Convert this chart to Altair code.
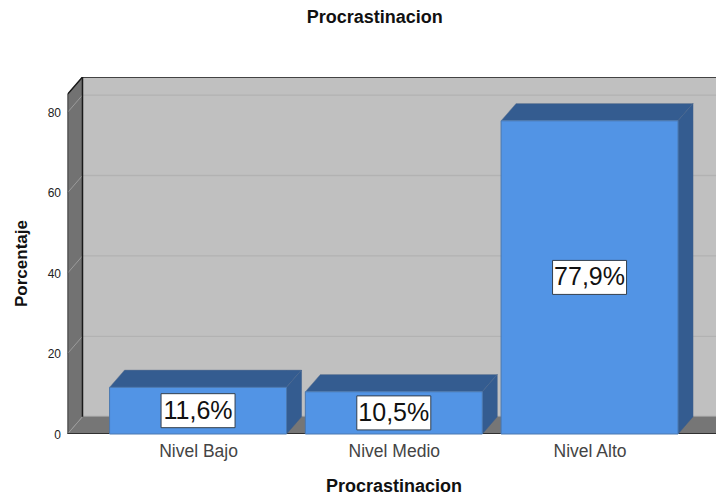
import altair as alt
import pandas as pd

categories = ["Nivel Bajo", "Nivel Medio", "Nivel Alto"]
values = [11.6, 10.5, 77.9]
labels = ["11,6%", "10,5%", "77,9%"]
y_ticks = [0, 20, 40, 60, 80]

FONT = "Liberation Sans"
XMIN, XMAX = -0.667, 2.646
XR = 2.667        # right front corner of the floor (just beyond the visible area)
YTOP = 88.8
DX, DY = 0.0766, 4.3   # depth of the 3D box in data units
HW = 0.452

xs = alt.Scale(domain=[XMIN, XMAX], nice=False, zero=False)
ys = alt.Scale(domain=[0, YTOP], nice=False, zero=False)

label_expr = "[" + ",".join(f"'{c}'" for c in categories) + "][datum.value]"
AX = alt.Axis(
    values=[0, 1, 2], labelExpr=label_expr, title="Procrastinacion", grid=False,
    domain=False, ticks=False, labelFont=FONT, labelFontSize=17.5, labelColor="#444444",
    labelPadding=8, titleFont=FONT, titleFontSize=18, titleFontWeight="bold",
    titleColor="#111111", titleX=326, titleY=43)
AY = alt.Axis(
    values=y_ticks, title="Porcentaje", grid=False, domain=False, ticks=False,
    format="d", labelFont=FONT, labelFontSize=12, labelColor="#222222", labelPadding=7,
    titleFont=FONT, titleFontSize=17, titleFontWeight="bold", titleColor="#111111",
    titleX=-37, titleY=186)
X = alt.X("x:Q", scale=xs, axis=AX)
Y = alt.Y("y:Q", scale=ys, axis=AY)


def area(rows, color, **kw):
    df = pd.DataFrame(rows, columns=["g", "x", "y", "y2"])
    return alt.Chart(df).mark_area(color=color, clip=True, **kw).encode(
        X, Y, y2="y2:Q", detail="g:N")


def lines(rows, color, width):
    df = pd.DataFrame(rows, columns=["g", "x", "y"])
    df["o"] = range(len(df))
    return alt.Chart(df).mark_line(color=color, strokeWidth=width, clip=True).encode(
        X, Y, detail="g:N", order="o:Q")


back = area([(0, XMIN + DX, DY, YTOP), (0, XMAX, DY, YTOP)], "#c0c0c0")
floor = area([
    (0, XMIN, 0, 0), (0, XMIN + DX, 0, DY), (0, XR, 0, DY), (0, XR + DX, DY, DY)
], "#767676")
strip = lines([(0, XMIN + DX, DY), (0, XMAX, DY)], "#a6a6a6", 2)
side = area([(0, XMIN, 0, YTOP - DY), (0, XMIN + DX, DY, YTOP)], "#727272")

grid_back = lines(
    [r for v in y_ticks[1:] for r in ((v, XMIN + DX, v + DY), (v, XMAX, v + DY))],
    "#b2b2b2", 1.3)
grid_side = lines(
    [r for v in y_ticks for r in ((v, XMIN, v), (v, XMIN + DX, v + DY))],
    "#9b9b9b", 1)

outline = lines([
    ("a", XMIN, 0), ("a", XMIN, YTOP - DY), ("a", XMIN + DX, YTOP), ("a", XMAX, YTOP),
    ("c", XMIN + DX, DY), ("c", XMIN + DX, YTOP),
    ("b", XMIN, 0), ("b", XR, 0), ("b", XR + DX, DY),
], "#1a1a1a", 1.5)

bars = []
for i, v in enumerate(values):
    x0, x1 = i - HW, i + HW
    bars.append(area([
        (0, x0, v, v), (0, x0 + DX, v, v + DY), (0, x1, v, v + DY), (0, x1 + DX, v + DY, v + DY)
    ], "#345c90", stroke="#6f7f94", strokeWidth=0.5))
    bars.append(area([(0, x1, 0, v), (0, x1 + DX, DY, v + DY)], "#345c90",
                     stroke="#3f5f8a", strokeWidth=0.5))

df = pd.DataFrame({
    "pos": range(3), "cat": categories, "v": values, "lab": labels,
    "x0": [i - HW for i in range(3)], "x1": [i + HW for i in range(3)],
})
df["mid"] = df["v"] / 2

front = alt.Chart(df).mark_rect(color="#5294e5", stroke="#4a78b0", strokeWidth=1).encode(
    x=alt.X("x0:Q", scale=xs, axis=AX), x2="x1:Q",
    y=alt.Y("v:Q", scale=ys, axis=AY), y2=alt.datum(0))

box = alt.Chart(df).mark_rect(width=74, height=34, color="white", stroke="#333f4d",
                              strokeWidth=1).encode(
    x=alt.X("pos:Q", scale=xs, axis=AX),
    y=alt.Y("mid:Q", scale=ys, axis=AY))
txt = alt.Chart(df).mark_text(font=FONT, fontSize=25, color="#111111",
                              baseline="middle", align="center").encode(
    x=alt.X("pos:Q", scale=xs, axis=AX),
    y=alt.Y("mid:Q", scale=ys, axis=AY), text="lab:N")

chart = alt.layer(
    back, strip, floor, side, grid_back, grid_side, outline, *bars, front, box, txt
).properties(
    width=648.5, height=357,
    padding={"left": 59.5, "top": 69, "right": 0, "bottom": 61},
    autosize=alt.AutoSizeParams(type="none"),
    title=alt.TitleParams("Procrastinacion", font=FONT, fontSize=18, fontWeight="bold",
                          color="#111111", anchor="middle", dx=-17, offset=50),
).configure_view(stroke=None)

chart.save("out.html", embed_options={"renderer": "svg", "actions": False})
